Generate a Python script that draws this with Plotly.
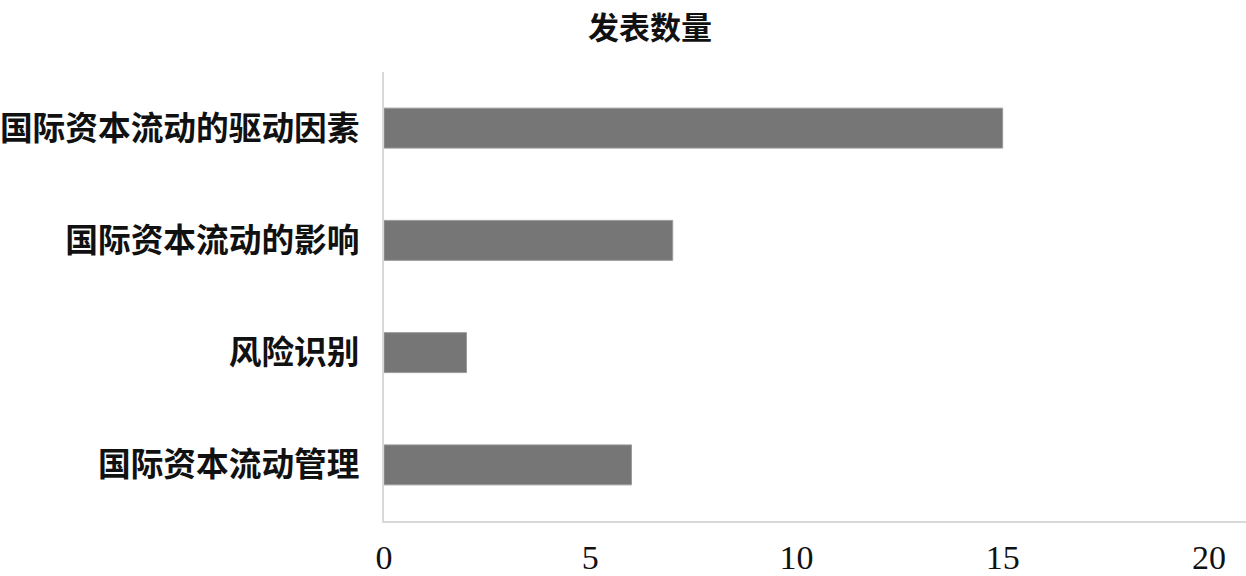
import plotly.graph_objects as go

categories = ["国际资本流动的驱动因素", "国际资本流动的影响", "风险识别", "国际资本流动管理"]
values = [15, 7, 2, 6]
tick_vals = [0, 5, 10, 15, 20]
title_text = "发表数量"

fig = go.Figure(go.Bar(
    x=values, y=categories, orientation="h",
    marker=dict(color="#767676", line=dict(color="#9a9a9a", width=1)),
))

fig.update_layout(
    width=1246, height=576,
    margin=dict(l=384, r=0, t=72, b=55, autoexpand=False),
    paper_bgcolor="white", plot_bgcolor="white",
    bargap=0.644,
    showlegend=False,
    title=dict(text=title_text, x=650/1246, xanchor="center", y=1 - 28/576, yanchor="middle",
               font=dict(family="Noto Sans CJK SC", size=31, color="#111111", weight="bold")),
    font=dict(family="Liberation Serif", color="#111111"),
)

fig.update_xaxes(
    range=[0, 20.9], tickvals=tick_vals, showgrid=False, zeroline=False, automargin=False,
    showline=True, linecolor="#d9d9d9", linewidth=2,
    ticks="outside", ticklen=5, tickcolor="rgba(0,0,0,0)",
    tickfont=dict(family="Liberation Serif", size=34, color="#111111"),
)
fig.update_yaxes(
    categoryorder="array", categoryarray=categories[::-1],
    showgrid=False, zeroline=False, automargin=False,
    showline=True, linecolor="#d9d9d9", linewidth=2,
    ticks="outside", ticklen=16, tickcolor="rgba(0,0,0,0)",
    tickfont=dict(family="Noto Sans CJK SC", size=32.7, color="#111111", weight="bold"),
)

fig.write_html("out.html", config={"displayModeBar": False},
               post_script="document.body.style.margin='0';document.body.style.overflow='hidden';")
